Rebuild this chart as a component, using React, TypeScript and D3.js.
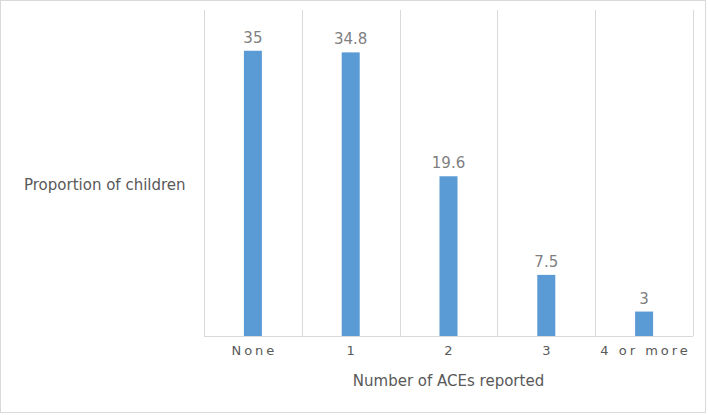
import React, { useEffect, useRef } from "react";
import * as d3 from "d3";

const categories = ["None", "1", "2", "3", "4 or more"];
const values = [35, 34.8, 19.6, 7.5, 3];
const yMax = 40;

const W = 708, H = 415;
const margin = { top: 10, right: 15, bottom: 79, left: 204 };

const App = () => {
  const ref = useRef<SVGSVGElement>(null);

  useEffect(() => {
    const svg = d3.select(ref.current);
    svg.selectAll("*").remove();

    // outer border
    svg.append("rect")
      .attr("x", 0.5).attr("y", 0.5)
      .attr("width", W - 3).attr("height", H - 3)
      .style("fill", "white")
      .style("stroke", "#d9d9d9");

    const x = d3.scaleBand()
      .domain(categories)
      .range([margin.left, W - margin.right])
      .paddingInner(0).paddingOuter(0);

    const y = d3.scaleLinear()
      .domain([0, yMax])
      .range([H - margin.bottom, margin.top]);

    const g = svg.append("g");

    // vertical grid lines at category edges
    const edges = categories.map(c => x(c)!).concat([x.range()[1]]);
    g.selectAll("line.grid")
      .data(edges)
      .join("line")
      .attr("class", "grid")
      .attr("x1", d => Math.round(d) + 0.5)
      .attr("x2", d => Math.round(d) + 0.5)
      .attr("y1", y(yMax))
      .attr("y2", y(0))
      .style("stroke", "#d9d9d9");

    // baseline
    g.append("line")
      .attr("x1", x.range()[0]).attr("x2", x.range()[1])
      .attr("y1", y(0) + 0.5).attr("y2", y(0) + 0.5)
      .style("stroke", "#d9d9d9");

    const barW = 18;
    g.selectAll("rect.bar")
      .data(values)
      .join("rect")
      .attr("class", "bar")
      .attr("x", (d, i) => x(categories[i])! + x.bandwidth() / 2 - barW / 2)
      .attr("y", d => y(d))
      .attr("width", barW)
      .attr("height", d => y(0) - y(d))
      .style("fill", "#5b9bd5");

    g.selectAll("text.val")
      .data(values)
      .join("text")
      .attr("class", "val")
      .attr("x", (d, i) => x(categories[i])! + x.bandwidth() / 2)
      .attr("y", d => y(d) - 8)
      .attr("text-anchor", "middle")
      .attr("font-size", "15px")
      .style("fill", "#7f7f7f")
      .text(d => String(d));

    g.selectAll("text.cat")
      .data(categories)
      .join("text")
      .attr("class", "cat")
      .attr("x", d => x(d)! + x.bandwidth() / 2 + 1.5)
      .attr("y", y(0) + 19)
      .attr("text-anchor", "middle")
      .attr("font-size", "13px")
      .attr("letter-spacing", "3px")
      .style("fill", "#595959")
      .text(d => d);

    svg.append("text")
      .attr("x", (x.range()[0] + x.range()[1]) / 2)
      .attr("y", 386)
      .attr("text-anchor", "middle")
      .attr("font-size", "15px")
      .style("fill", "#595959")
      .text("Number of ACEs reported");

    svg.append("text")
      .attr("x", 24)
      .attr("y", 190)
      .attr("font-size", "15px")
      .style("fill", "#595959")
      .text("Proportion of children");
  }, []);

  return (
    <svg ref={ref} width={W} height={H}
      style={{ position: "absolute", left: 0, top: 0, fontFamily: "DejaVu Sans" }} />
  );
};

export default App;
